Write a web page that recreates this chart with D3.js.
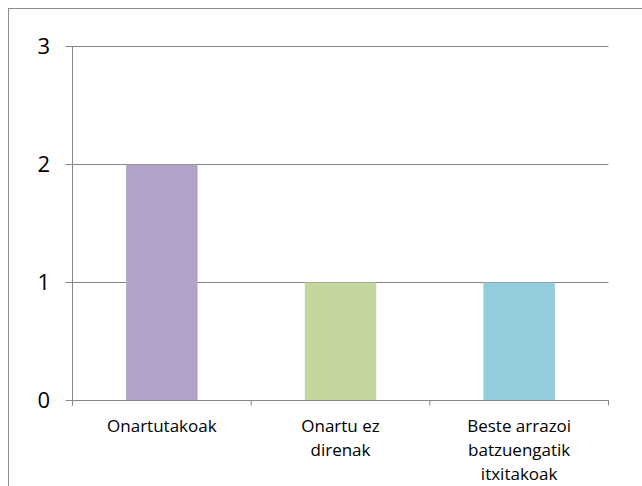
<!DOCTYPE html>
<html>
<head>
<meta charset="utf-8">
<script src="https://cdn.jsdelivr.net/npm/d3@7"></script>
<style>
  body { margin: 0; background: #fff; }
  text { font-family: "Open Sans", "Liberation Sans", Arial, sans-serif; fill: #000; }
</style>
</head>
<body>
<div id="container"></div>
<script>
// Chart data
var categories = ['Onartutakoak', 'Onartu ez direnak', 'Beste arrazoi batzuengatik itxitakoak'];
var labelLines = [['Onartutakoak'], ['Onartu ez', 'direnak'], ['Beste arrazoi', 'batzuengatik', 'itxitakoak']];
var values = [2, 1, 1];
var colors = ['#B3A2C7', '#C3D69B', '#93CDDD'];
var yTicks = [0, 1, 2, 3];

var WIDTH = 642,
    HEIGHT = 486;

var plot = { left: 72.5, right: 608.5, top: 46.5, bottom: 400.5 };

var svg = d3.select('#container')
    .append('svg')
    .attr('width', WIDTH)
    .attr('height', HEIGHT);

// outer chart border (runs off the right and bottom)
svg.append('rect')
    .attr('x', 8.5)
    .attr('y', 8.5)
    .attr('width', 660)
    .attr('height', 500)
    .attr('fill', 'none')
    .attr('stroke', '#8c8c8c')
    .attr('stroke-width', 1);

var x = d3.scaleBand()
    .domain(categories)
    .range([plot.left, plot.right])
    .paddingInner(0)
    .paddingOuter(0);

var y = d3.scaleLinear()
    .domain([0, 3])
    .range([plot.bottom, plot.top]);

// gridlines
svg.selectAll('.grid')
    .data(yTicks)
    .enter()
    .append('line')
    .attr('class', 'grid')
    .attr('x1', plot.left - 7)
    .attr('x2', plot.right)
    .attr('y1', function(d) { return y(d); })
    .attr('y2', function(d) { return y(d); })
    .attr('stroke', '#868686')
    .attr('stroke-width', 1);

// y labels
svg.selectAll('.ylab')
    .data(yTicks)
    .enter()
    .append('text')
    .attr('class', 'ylab')
    .attr('x', 50)
    .attr('y', function(d) { return y(d); })
    .attr('dy', '0.36em')
    .attr('text-anchor', 'end')
    .style('font-size', '22px')
    .text(function(d) { return d; });

// bars
var barW = x.bandwidth() * 0.4;
svg.selectAll('.bar')
    .data(values)
    .enter()
    .append('rect')
    .attr('class', 'bar')
    .attr('x', function(d, i) { return x(categories[i]) + (x.bandwidth() - barW) / 2; })
    .attr('y', function(d) { return y(d); })
    .attr('width', barW)
    .attr('height', function(d) { return y(0) - y(d); })
    .attr('fill', function(d, i) { return colors[i]; });

// y axis line
svg.append('line')
    .attr('x1', plot.left).attr('x2', plot.left)
    .attr('y1', plot.top).attr('y2', plot.bottom + 5)
    .attr('stroke', '#868686');

// x axis line and category ticks
svg.append('line')
    .attr('x1', plot.left).attr('x2', plot.right)
    .attr('y1', plot.bottom).attr('y2', plot.bottom)
    .attr('stroke', '#868686');

var boundaries = categories.map(function(c) { return x(c); }).concat([plot.right]);
svg.selectAll('.xtick')
    .data(boundaries)
    .enter()
    .append('line')
    .attr('class', 'xtick')
    .attr('x1', function(d) { return d; })
    .attr('x2', function(d) { return d; })
    .attr('y1', plot.bottom)
    .attr('y2', plot.bottom + 5)
    .attr('stroke', '#868686');

// category labels
var labs = svg.selectAll('.xlab')
    .data(categories)
    .enter()
    .append('text')
    .attr('class', 'xlab')
    .attr('text-anchor', 'middle')
    .style('font-size', '17px')
    .attr('transform', function(d) {
        return 'translate(' + (x(d) + x.bandwidth() / 2) + ',' + 432 + ')';
    });

labs.selectAll('tspan')
    .data(function(d, i) { return labelLines[i]; })
    .enter()
    .append('tspan')
    .attr('x', 0)
    .attr('y', function(d, i) { return i * 24; })
    .text(function(d) { return d; });
</script>
</body>
</html>
